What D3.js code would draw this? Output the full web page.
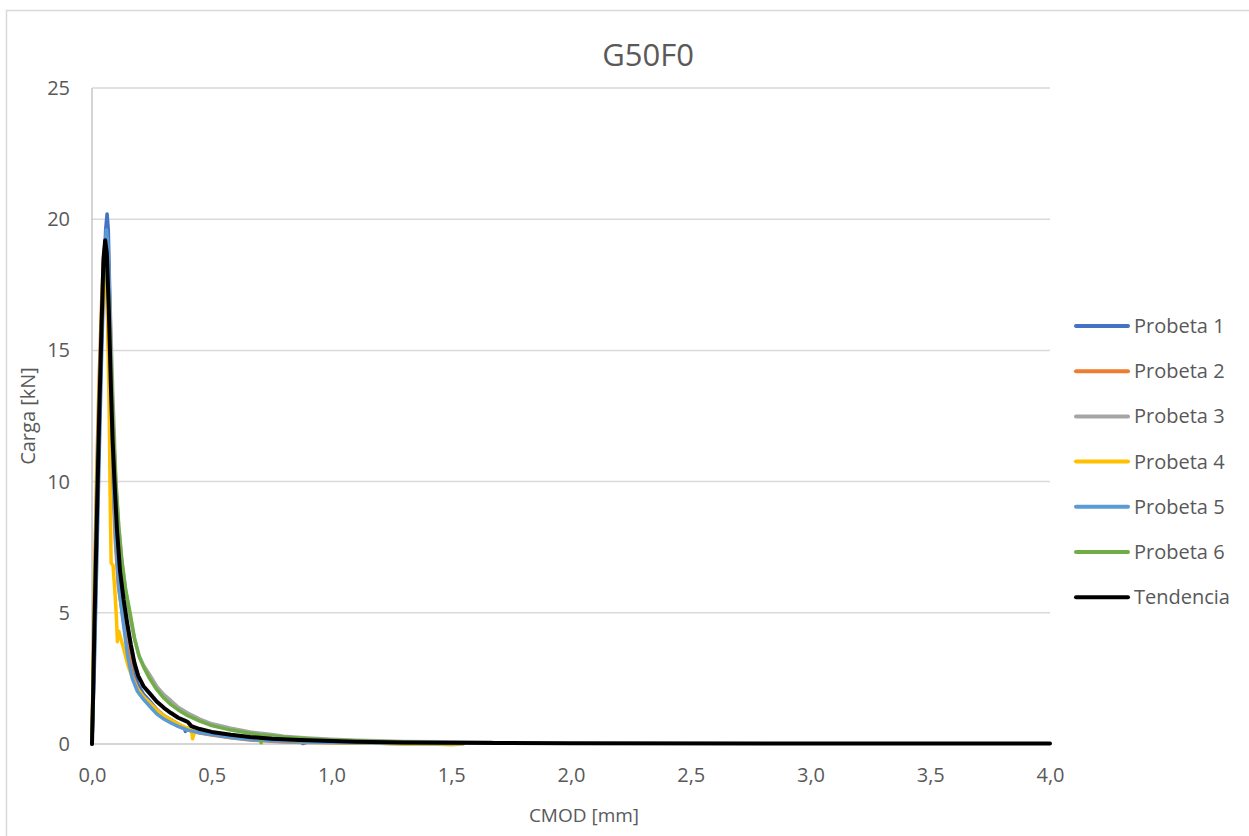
<!DOCTYPE html>
<html>
<head>
<meta charset="utf-8">
<script src="https://cdn.jsdelivr.net/npm/d3@7"></script>
<style>
  body { margin: 0; background: #fff; }
  svg { display: block; }
  text { font-family: "Open Sans", "Noto Sans", sans-serif; fill: #595959; }
</style>
</head>
<body>
<svg id="chart" width="1249" height="836"></svg>
<script>
// ---- data (CMOD [mm], Carga [kN]) ----
const seriesNames = ["Probeta 1", "Probeta 2", "Probeta 3", "Probeta 4", "Probeta 5", "Probeta 6", "Tendencia"];
const seriesColors = ["#4472C4", "#ED7D31", "#A5A5A5", "#FFC000", "#5B9BD5", "#70AD47", "#000000"];

const probeta1 = [[0,0],[0.01,3],[0.02,7],[0.03,11],[0.04,14.8],[0.05,18],[0.057,19.6],[0.063,20.2],[0.068,19.6],[0.074,17.2],[0.082,13.5],[0.092,10],[0.102,8],[0.115,6.3],[0.13,5.1],[0.14,4.5],[0.16,3.4],[0.19,2.3],[0.215,1.9],[0.24,1.65],[0.27,1.32],[0.3,1.08],[0.33,0.92],[0.36,0.76],[0.385,0.62],[0.39,0.48],[0.4,0.6],[0.45,0.5],[0.5,0.42],[0.58,0.3],[0.66,0.2],[0.75,0.15],[0.8,0.12],[0.87,0.08],[0.88,0.02],[0.9,0.07],[1.0,0.08],[1.1,0.05],[1.2,0.04],[1.45,0.03]];
const probeta2 = [[0,0],[0.01,6],[0.02,10.5],[0.03,14],[0.04,16.8],[0.047,18.3],[0.052,18.9],[0.058,18.4],[0.066,16],[0.076,12.8],[0.086,10],[0.097,7.8],[0.11,6.0],[0.128,4.9],[0.15,3.6],[0.17,2.6],[0.19,2.1],[0.215,1.75],[0.24,1.5],[0.27,1.2],[0.3,0.98],[0.33,0.82],[0.36,0.68],[0.4,0.53],[0.45,0.42],[0.5,0.34],[0.58,0.24],[0.66,0.15],[0.75,0.1],[0.8,0.08],[0.9,0.06],[1.0,0.05],[1.1,0.04],[1.2,0.03],[1.3,0.0],[1.4,0.02],[1.5,0.01]];
const probeta3 = [[0,0],[0.01,4],[0.02,8.5],[0.03,12.5],[0.04,15.8],[0.05,18.2],[0.06,19],[0.067,18.6],[0.076,16.6],[0.087,13.3],[0.1,10],[0.112,8.3],[0.125,7.0],[0.14,5.9],[0.156,5.0],[0.175,4.1],[0.195,3.4],[0.215,3.0],[0.24,2.65],[0.27,2.2],[0.3,1.88],[0.33,1.65],[0.36,1.4],[0.4,1.18],[0.45,0.95],[0.5,0.77],[0.58,0.6],[0.66,0.46],[0.75,0.36],[0.8,0.3],[0.9,0.23],[1.0,0.18],[1.1,0.14],[1.2,0.12],[1.3,0.1],[1.45,0.09],[1.55,0.08],[1.67,0.07]];
const probeta4 = [[0,0],[0.01,5],[0.02,9.5],[0.03,13.2],[0.04,16.3],[0.048,18.3],[0.055,19],[0.061,18.3],[0.067,15.5],[0.072,12.5],[0.075,10],[0.078,8],[0.08,6.9],[0.088,6.8],[0.097,5.6],[0.102,4.8],[0.106,3.9],[0.112,4.3],[0.13,3.7],[0.15,3.0],[0.17,2.5],[0.19,2.1],[0.215,1.8],[0.24,1.58],[0.27,1.3],[0.3,1.08],[0.33,0.92],[0.36,0.76],[0.4,0.6],[0.415,0.55],[0.42,0.2],[0.43,0.52],[0.5,0.4],[0.58,0.28],[0.66,0.2],[0.75,0.15],[0.8,0.12],[0.9,0.08],[1.0,0.06],[1.1,0.04],[1.2,0.03],[1.3,0.0],[1.4,0.01],[1.5,-0.03],[1.55,0.0]];
const probeta5 = [[0,0],[0.01,3.5],[0.02,8],[0.03,12],[0.04,15.5],[0.05,18.3],[0.06,19.6],[0.066,19.1],[0.073,16.8],[0.08,13.5],[0.089,10],[0.099,7.8],[0.112,6.0],[0.128,4.8],[0.148,3.4],[0.168,2.5],[0.19,2.0],[0.215,1.7],[0.24,1.45],[0.27,1.15],[0.3,0.95],[0.33,0.8],[0.36,0.67],[0.4,0.53],[0.45,0.43],[0.5,0.36],[0.58,0.25],[0.66,0.17],[0.75,0.12],[0.8,0.1],[0.9,0.08],[1.0,0.06],[1.1,0.05],[1.2,0.04],[1.3,0.03],[1.45,0.02],[1.55,0.02]];
const probeta6 = [[0,0],[0.01,5],[0.02,9.5],[0.03,13],[0.04,16],[0.05,17.8],[0.058,18.3],[0.066,17.6],[0.076,15.4],[0.087,12.5],[0.099,10],[0.111,8.3],[0.124,7.0],[0.14,5.9],[0.159,5.0],[0.178,4.0],[0.198,3.3],[0.22,2.85],[0.24,2.5],[0.27,2.08],[0.3,1.75],[0.33,1.5],[0.36,1.3],[0.4,1.08],[0.45,0.87],[0.5,0.7],[0.58,0.53],[0.66,0.41],[0.7,0.35],[0.706,0.05],[0.712,0.34],[0.8,0.27],[0.9,0.2],[1.0,0.15],[1.1,0.12],[1.2,0.1],[1.3,0.08],[1.45,0.06]];
const tendencia = [[0,0],[0.005,2],[0.01,4.5],[0.02,8.5],[0.03,12.5],[0.04,16],[0.048,18.5],[0.055,19.2],[0.062,18.7],[0.07,16.6],[0.079,13.6],[0.086,11.6],[0.094,10],[0.104,8.2],[0.117,6.6],[0.132,5.5],[0.147,4.6],[0.162,3.8],[0.177,3.1],[0.193,2.6],[0.215,2.2],[0.24,1.94],[0.27,1.62],[0.3,1.38],[0.33,1.18],[0.36,1.0],[0.39,0.88],[0.4,0.84],[0.415,0.68],[0.45,0.57],[0.5,0.46],[0.58,0.35],[0.66,0.27],[0.75,0.2],[0.87,0.15],[1.0,0.11],[1.1,0.09],[1.3,0.06],[1.5,0.05],[1.7,0.04],[2.0,0.03],[3.0,0.02],[4.0,0.02]];
const seriesData = [probeta1, probeta2, probeta3, probeta4, probeta5, probeta6, tendencia];

const xTicks = [0, 0.5, 1.0, 1.5, 2.0, 2.5, 3.0, 3.5, 4.0];
const yTicks = [0, 5, 10, 15, 20, 25];
const chartTitle = "G50F0";
const xTitle = "CMOD [mm]";
const yTitle = "Carga [kN]";

// ---- layout ----
const svg = d3.select("#chart");
const plot = { left: 92, right: 1050, top: 88, bottom: 744 };

svg.append("rect").attr("width", 1249).attr("height", 836).attr("fill", "#fff");
svg.append("rect").attr("x", 6.5).attr("y", 10.5).attr("width", 1400).attr("height", 1000)
  .attr("fill", "none").attr("stroke", "#d9d9d9").attr("stroke-width", 1.5);

const x = d3.scaleLinear().domain([0, 4]).range([plot.left, plot.right]);
const y = d3.scaleLinear().domain([0, 25]).range([plot.bottom, plot.top]);

// gridlines
svg.append("g").selectAll("line").data(yTicks.filter(d => d > 0)).join("line")
  .attr("x1", plot.left).attr("x2", plot.right)
  .attr("y1", d => y(d)).attr("y2", d => y(d))
  .attr("stroke", "#d9d9d9").attr("stroke-width", 1.5);

// axis lines
svg.append("line").attr("x1", plot.left).attr("x2", plot.left).attr("y1", plot.top).attr("y2", plot.bottom)
  .attr("stroke", "#c6c6c6").attr("stroke-width", 1.5);
svg.append("line").attr("x1", plot.left).attr("x2", plot.right).attr("y1", plot.bottom).attr("y2", plot.bottom)
  .attr("stroke", "#c6c6c6").attr("stroke-width", 1.5);

const fmt = d => d3.format(".1f")(d).replace(".", ",");

const xAxis = svg.append("g").attr("transform", `translate(0,${plot.bottom})`)
  .call(d3.axisBottom(x).tickValues(xTicks).tickFormat(fmt).tickSize(0).tickPadding(24));
xAxis.select(".domain").remove();
xAxis.selectAll("text").attr("font-size", 20).attr("fill", "#595959")
  .style("font-family", '"Open Sans", sans-serif');

const yAxis = svg.append("g").attr("transform", `translate(${plot.left},0)`)
  .call(d3.axisLeft(y).tickValues(yTicks).tickFormat(d3.format("d")).tickSize(0).tickPadding(22));
yAxis.select(".domain").remove();
yAxis.selectAll("text").attr("font-size", 20).attr("fill", "#595959")
  .style("font-family", '"Open Sans", sans-serif');

// lines
const line = d3.line().x(d => x(d[0])).y(d => y(d[1]));
svg.append("g").selectAll("path").data(seriesData).join("path")
  .attr("d", line)
  .attr("fill", "none")
  .attr("stroke", (d, i) => seriesColors[i])
  .attr("stroke-width", (d, i) => i === 6 ? 4 : 3.5)
  .attr("stroke-linejoin", "round")
  .attr("stroke-linecap", "round");

// titles
svg.append("text").attr("x", 648).attr("y", 66).attr("text-anchor", "middle")
  .attr("font-size", 31).text(chartTitle);
svg.append("text").attr("x", 584).attr("y", 822).attr("text-anchor", "middle")
  .attr("font-size", 19).text(xTitle);
svg.append("text").attr("transform", "translate(35,416) rotate(-90)").attr("text-anchor", "middle")
  .attr("font-size", 20).text(yTitle);

// legend
const legend = svg.append("g");
const legendY0 = 326, legendStep = 45.2;
seriesNames.forEach((name, i) => {
  const g = legend.append("g").attr("transform", `translate(0,${legendY0 + i * legendStep})`);
  g.append("line").attr("x1", 1076).attr("x2", 1128).attr("y1", 0).attr("y2", 0)
    .attr("stroke", seriesColors[i]).attr("stroke-width", 4).attr("stroke-linecap", "round");
  g.append("text").attr("x", 1134).attr("y", 0).attr("dy", "0.35em")
    .attr("font-size", 20).text(name);
});
</script>
</body>
</html>
